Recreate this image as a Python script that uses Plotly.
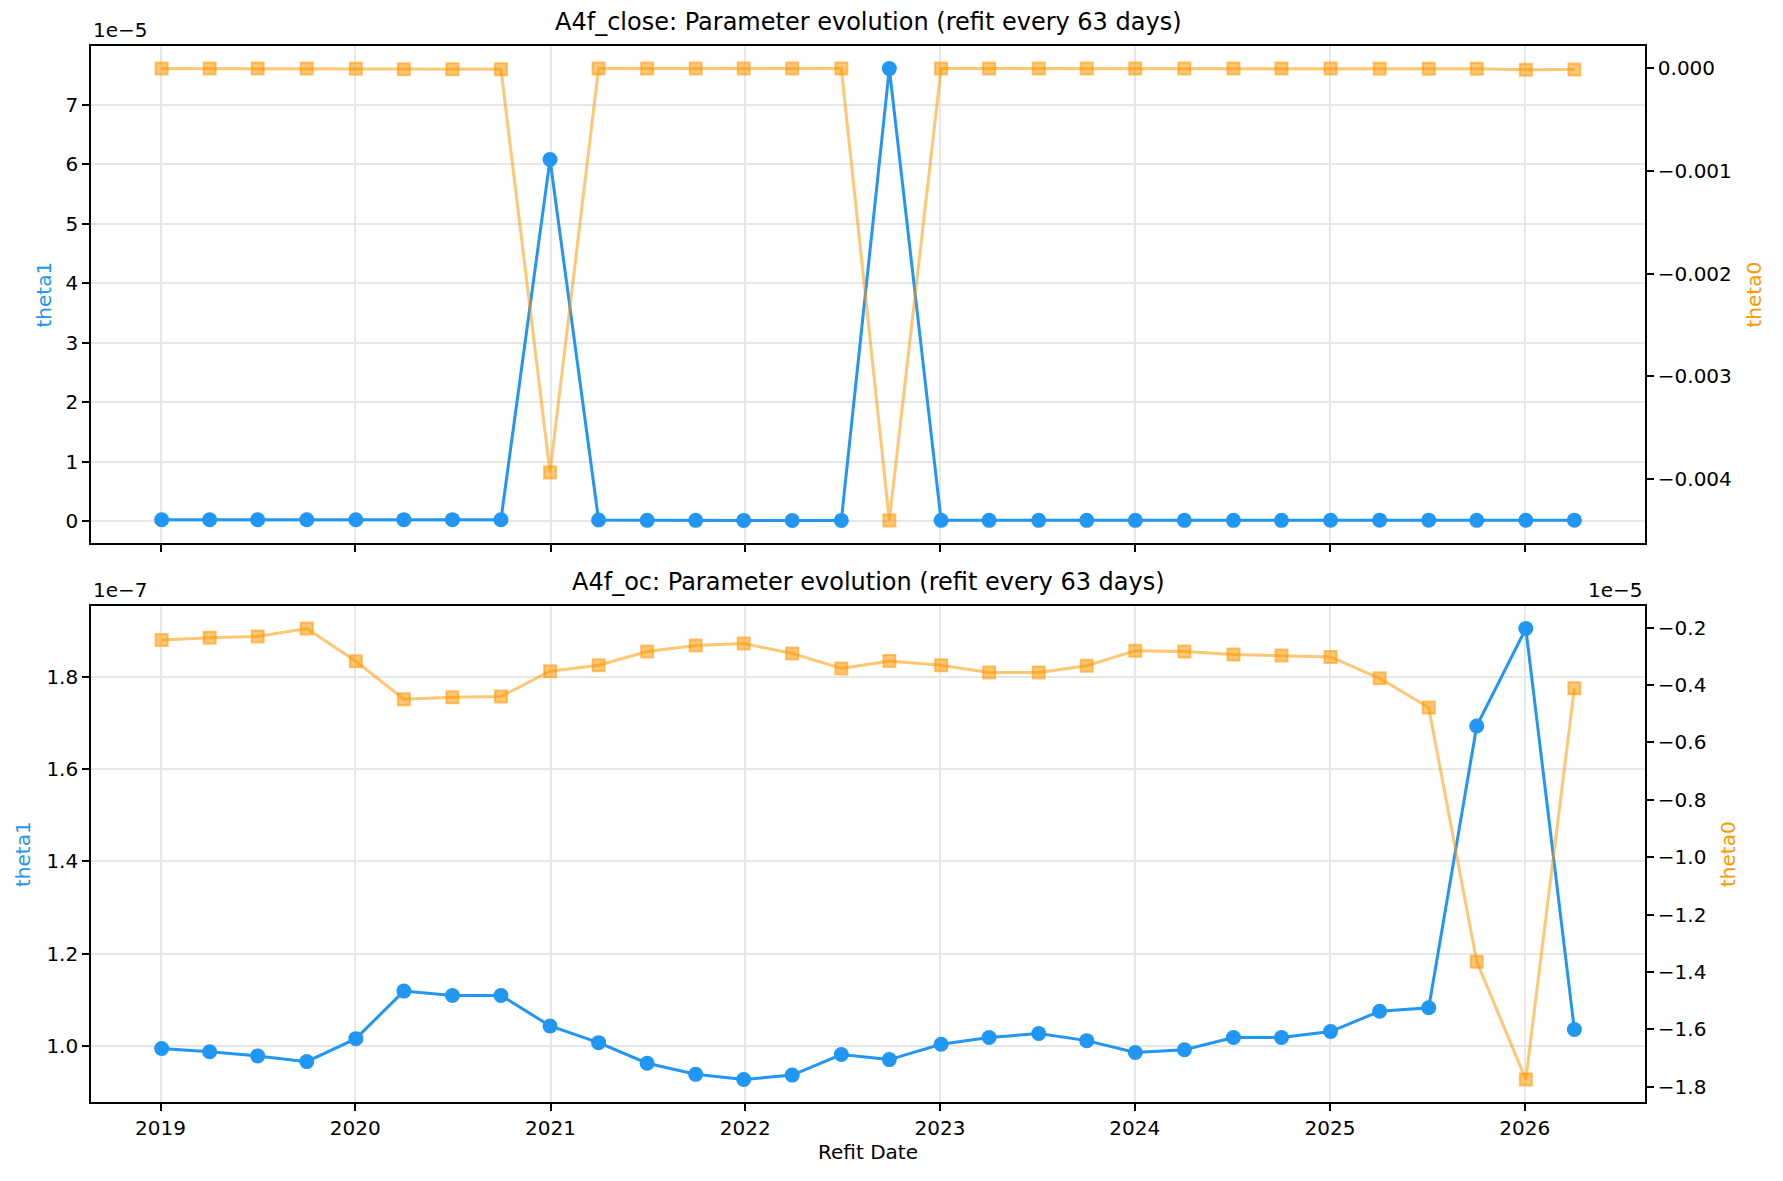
import plotly.graph_objects as go
import pandas as pd

# ---------------- data ----------------
refit_dates = [
    "2019-01-03", "2019-04-03", "2019-07-02", "2019-10-02",
    "2020-01-02", "2020-04-01", "2020-07-01", "2020-09-30",
    "2020-12-31", "2021-04-01", "2021-07-01", "2021-09-30",
    "2021-12-29", "2022-03-30", "2022-06-30", "2022-09-28",
    "2023-01-03", "2023-04-03", "2023-07-05", "2023-10-03",
    "2024-01-02", "2024-04-03", "2024-07-04", "2024-10-02",
    "2025-01-02", "2025-04-04", "2025-07-05", "2025-10-03",
    "2026-01-03", "2026-04-04",
]

close_theta1 = [
    2.4e-7, 2.4e-7, 2.4e-7, 2.4e-7, 2.4e-7, 2.5e-7, 2.5e-7, 2.4e-7,
    6.08e-5, 1.8e-7, 1.3e-7, 1.3e-7, 1.2e-7, 1.2e-7, 1.2e-7, 7.607e-5,
    1.3e-7, 1.3e-7, 1.3e-7, 1.3e-7, 1.3e-7, 1.3e-7, 1.3e-7, 1.3e-7,
    1.4e-7, 1.6e-7, 1.6e-7, 1.3e-7, 1.5e-7, 1.6e-7,
]
close_theta0 = [
    -3e-6, -3e-6, -3e-6, -3e-6, -4e-6, -1.0e-5, -1.0e-5, -9e-6,
    -3.937e-3, -3e-6, -3e-6, -3e-6, -3e-6, -3e-6, -3e-6, -4.404e-3,
    -3e-6, -3e-6, -3e-6, -3e-6, -3e-6, -3e-6, -3e-6, -3e-6,
    -3e-6, -4e-6, -5e-6, -5e-6, -1.4e-5, -1.3e-5,
]

oc_theta1 = [
    0.9949e-7, 0.988e-7, 0.979e-7, 0.9666e-7, 1.0163e-7, 1.1192e-7, 1.1098e-7, 1.1098e-7,
    1.0437e-7, 1.0077e-7, 0.9631e-7, 0.9391e-7, 0.928e-7, 0.9374e-7, 0.982e-7, 0.971e-7,
    1.0043e-7, 1.0189e-7, 1.0274e-7, 1.012e-7, 0.9863e-7, 0.9923e-7, 1.0189e-7, 1.0189e-7,
    1.0317e-7, 1.0755e-7, 1.0832e-7, 1.6928e-7, 1.9038e-7, 1.036e-7,
]
oc_theta0 = [
    -0.2427e-5, -0.2345e-5, -0.2303e-5, -0.2028e-5, -0.3171e-5, -0.4494e-5, -0.4426e-5, -0.4398e-5,
    -0.3516e-5, -0.3309e-5, -0.2827e-5, -0.2620e-5, -0.2551e-5, -0.2896e-5, -0.3420e-5, -0.3158e-5,
    -0.3309e-5, -0.3557e-5, -0.3557e-5, -0.3323e-5, -0.2799e-5, -0.2827e-5, -0.2937e-5, -0.2965e-5,
    -0.3020e-5, -0.3764e-5, -0.4784e-5, -1.3645e-5, -1.7752e-5, -0.4109e-5,
]

# tick labels (in offset units)
close_theta1_ticks = [0, 1, 2, 3, 4, 5, 6, 7]            # x 1e-5
close_theta0_ticks = [0.0, -0.001, -0.002, -0.003, -0.004]
oc_theta1_ticks = [1.0, 1.2, 1.4, 1.6, 1.8]              # x 1e-7
oc_theta0_ticks = [-0.2, -0.4, -0.6, -0.8, -1.0, -1.2, -1.4, -1.6, -1.8]  # x 1e-5

titles = ["A4f_close: Parameter evolution (refit every 63 days)",
          "A4f_oc: Parameter evolution (refit every 63 days)"]

# ---------------- style ----------------
BLUE = "#2196F3"
ORANGE = "#FF9800"
ORANGE_A = "rgba(255,152,0,0.55)"
FONT = "DejaVu Sans"
TICK_FS = 20
TITLE_FS = 24
GRID = "#e7e7e7"
W, H = 1783, 1181
ML, MR, MT, MB = 91, 138, 46, 79

dates = pd.to_datetime(refit_dates)
span = dates.max() - dates.min()
xrange = [dates.min() - 0.05 * span, dates.max() + 0.05 * span]


def yr(vals):
    lo, hi = min(vals), max(vals)
    s = hi - lo
    return [lo - 0.05 * s, hi + 0.05 * s]


def minus(s):
    return s.replace("-", "\u2212")


def px_to_paper_x(px):
    return (px - ML) / (W - ML - MR)


def px_to_paper_y(py):
    return (H - MB - py) / (H - MT - MB)


blue_line = dict(color=BLUE, width=3)
blue_marker = dict(symbol="circle", size=15, color=BLUE)
orange_line = dict(color=ORANGE_A, width=3)
orange_marker = dict(symbol="square", size=12, color=ORANGE_A,
                     line=dict(color=ORANGE_A, width=2))

fig = go.Figure()

# top subplot
fig.add_trace(go.Scatter(x=dates, y=close_theta1, mode="lines+markers",
                         line=blue_line, marker=blue_marker,
                         xaxis="x", yaxis="y", showlegend=False))
fig.add_trace(go.Scatter(x=dates, y=close_theta0, mode="lines+markers",
                         line=orange_line, marker=orange_marker,
                         xaxis="x", yaxis="y2", showlegend=False))
# bottom subplot
fig.add_trace(go.Scatter(x=dates, y=oc_theta1, mode="lines+markers",
                         line=blue_line, marker=blue_marker,
                         xaxis="x2", yaxis="y3", showlegend=False))
fig.add_trace(go.Scatter(x=dates, y=oc_theta0, mode="lines+markers",
                         line=orange_line, marker=orange_marker,
                         xaxis="x2", yaxis="y4", showlegend=False))

top_dom = [px_to_paper_y(543), 1.0]
bot_dom = [0.0, px_to_paper_y(606)]

axis_common = dict(showline=True, linecolor="black", linewidth=1.6,
                   ticks="outside", ticklen=7, tickwidth=1.6, tickcolor="black",
                   tickfont=dict(family=FONT, size=TICK_FS, color="black"),
                   zeroline=False)

xcommon = dict(axis_common, type="date", range=xrange, dtick="M12",
               tick0="2019-01-01", tickformat="%Y", showgrid=True,
               gridcolor=GRID, gridwidth=1.6, mirror=True, domain=[0, 1])

fig.update_layout(
    width=W, height=H,
    margin=dict(l=ML, r=MR, t=MT, b=MB, autoexpand=False),
    paper_bgcolor="white", plot_bgcolor="white",
    font=dict(family=FONT, size=TICK_FS, color="black"),
    xaxis=dict(xcommon, anchor="y", showticklabels=False),
    xaxis2=dict(xcommon, anchor="y3",
                title=dict(text="Refit Date", font=dict(family=FONT, size=TICK_FS, color="black"),
                           standoff=6)),
    yaxis=dict(axis_common, domain=top_dom, anchor="x", range=yr(close_theta1),
               tickvals=[v * 1e-5 for v in close_theta1_ticks],
               ticktext=[str(v) for v in close_theta1_ticks],
               showgrid=True, gridcolor=GRID, gridwidth=1.6),
    yaxis2=dict(axis_common, overlaying="y", side="right", anchor="x",
                range=yr(close_theta0),
                tickvals=close_theta0_ticks,
                ticktext=[minus(f"{v:.3f}") for v in close_theta0_ticks],
                showgrid=False),
    yaxis3=dict(axis_common, domain=bot_dom, anchor="x2", range=yr(oc_theta1),
                tickvals=[v * 1e-7 for v in oc_theta1_ticks],
                ticktext=[f"{v:.1f}" for v in oc_theta1_ticks],
                showgrid=True, gridcolor=GRID, gridwidth=1.6),
    yaxis4=dict(axis_common, overlaying="y3", side="right", anchor="x2",
                range=yr(oc_theta0),
                tickvals=[v * 1e-5 for v in oc_theta0_ticks],
                ticktext=[minus(f"{v:.1f}") for v in oc_theta0_ticks],
                showgrid=False),
)

top_mid = (top_dom[0] + top_dom[1]) / 2
bot_mid = (bot_dom[0] + bot_dom[1]) / 2


def ylabel(text, color, px, ymid):
    return dict(text=text, xref="paper", yref="paper", x=px_to_paper_x(px), y=ymid,
                xanchor="center", yanchor="middle", textangle=-90, showarrow=False,
                font=dict(family=FONT, size=TICK_FS, color=color))


annots = [
    dict(text=titles[0], xref="paper", yref="paper", x=0.5, y=top_dom[1],
         xanchor="center", yanchor="bottom", yshift=8, showarrow=False,
         font=dict(family=FONT, size=TITLE_FS, color="black")),
    dict(text=titles[1], xref="paper", yref="paper", x=0.5, y=bot_dom[1],
         xanchor="center", yanchor="bottom", yshift=8, showarrow=False,
         font=dict(family=FONT, size=TITLE_FS, color="black")),
    dict(text="1e\u22125", xref="paper", yref="paper", x=0, y=top_dom[1],
         xanchor="left", yanchor="bottom", yshift=2, showarrow=False,
         font=dict(family=FONT, size=TICK_FS, color="black")),
    dict(text="1e\u22127", xref="paper", yref="paper", x=0, y=bot_dom[1],
         xanchor="left", yanchor="bottom", yshift=2, showarrow=False,
         font=dict(family=FONT, size=TICK_FS, color="black")),
    dict(text="1e\u22125", xref="paper", yref="paper", x=1, y=bot_dom[1],
         xanchor="right", yanchor="bottom", yshift=2, showarrow=False,
         font=dict(family=FONT, size=TICK_FS, color="black")),
    ylabel("theta1", BLUE, 43, top_mid),
    ylabel("theta0", ORANGE, 1753, top_mid),
    ylabel("theta1", BLUE, 23, bot_mid),
    ylabel("theta0", ORANGE, 1728, bot_mid),
]
fig.update_layout(annotations=annots)

fig.write_html("out.html")
